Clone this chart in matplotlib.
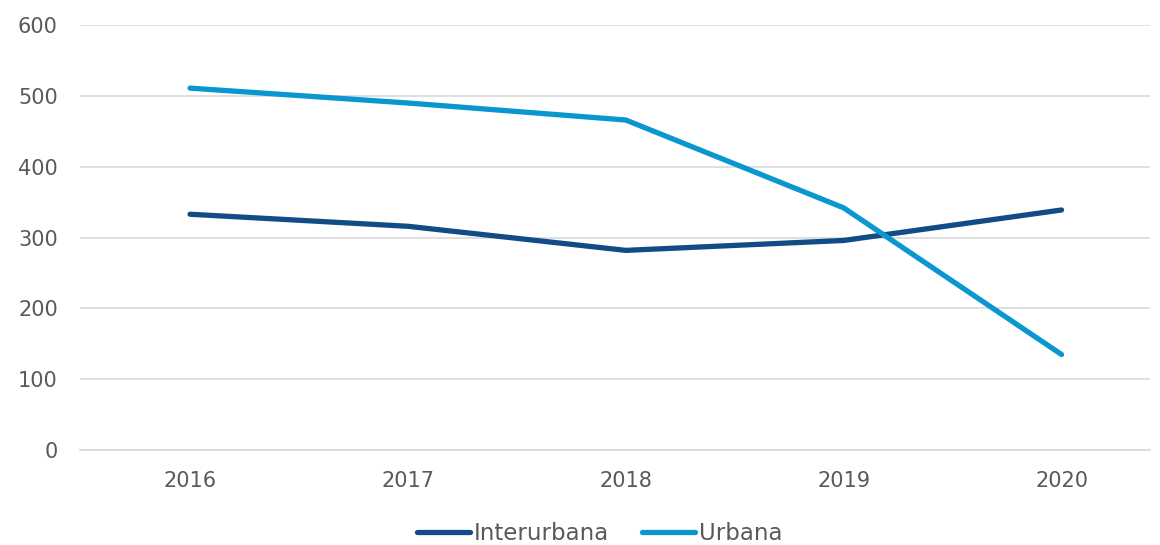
import matplotlib
matplotlib.use('Agg')
import matplotlib.pyplot as plt
import numpy as np

# Data
years = ['2016', '2017', '2018', '2019', '2020']
interurbana = [333, 316, 282, 296, 339]
urbana = [511, 490, 466, 342, 135]
y_ticks = [0, 100, 200, 300, 400, 500, 600]

plt.rcParams['font.family'] = ['DejaVu Sans']

fig = plt.figure(figsize=(11.6, 5.45), dpi=100)
ax = fig.add_axes([0.069, 0.174, 0.922, 0.78])

x = np.arange(len(years))
ax.plot(x, interurbana, color='#124c86', lw=3.8, solid_capstyle='round',
        label='Interurbana', zorder=3)
ax.plot(x, urbana, color='#0a97cf', lw=3.8, solid_capstyle='round',
        label='Urbana', zorder=3)

# category spacing is a bit wider than the visible plot area
ax.set_xlim(-0.505, 4.404)
ax.set_ylim(0, 600)
ax.set_yticks(y_ticks)
ax.set_xticks(x)
ax.set_xticklabels(years)

# Grid and spines
ax.grid(axis='y', color='#d9d9d9', lw=1.2)
ax.set_axisbelow(True)
for s in ['top', 'right', 'left']:
    ax.spines[s].set_visible(False)
ax.spines['bottom'].set_color('#d9d9d9')
ax.spines['bottom'].set_linewidth(1.2)
ax.tick_params(length=0, labelsize=15, labelcolor='#595959')
ax.tick_params(axis='x', pad=15)
ax.tick_params(axis='y', pad=16)

leg = ax.legend(loc='center', bbox_to_anchor=(0.486, -0.197), ncol=2,
                frameon=False, fontsize=16.5, handlelength=2.3,
                handletextpad=0.18, columnspacing=1.45)
for t in leg.get_texts():
    t.set_color('#595959')

plt.savefig('out.png', dpi=100)
